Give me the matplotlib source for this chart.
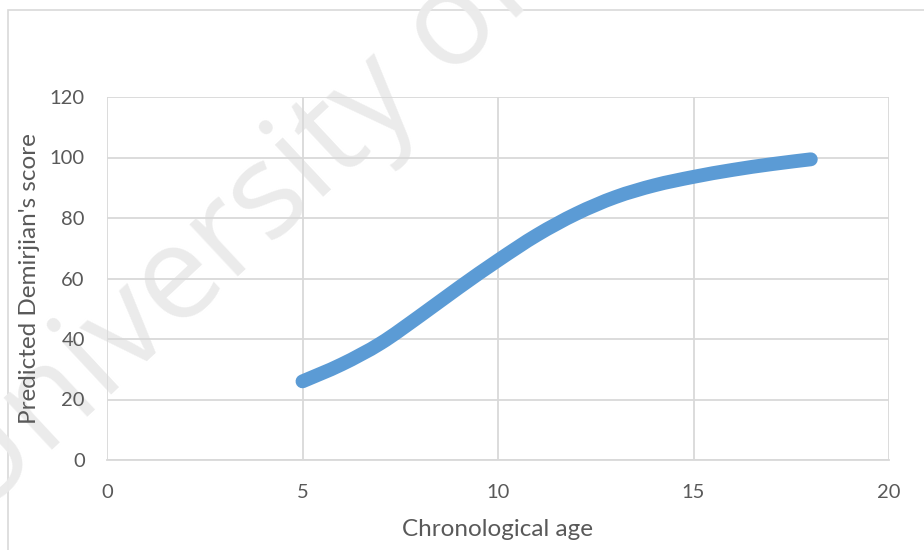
import matplotlib.pyplot as plt
from matplotlib.patches import Rectangle, PathPatch
from matplotlib.path import Path

# predicted score, one point per year of age
age = [5, 6, 7, 8, 9, 10, 11, 12, 13, 14, 15, 16, 17, 18]
score = [26.0, 31.6, 38.6, 47.6, 57.0, 66.0, 74.4, 81.4, 86.9, 90.8, 93.6, 95.9, 97.8, 99.4]
x_ticks = [0, 5, 10, 15, 20]
y_ticks = [0, 20, 40, 60, 80, 100, 120]

TEXT = "#595959"
GRID = "#d9d9d9"
BLUE = "#5b9bd5"

plt.rcParams["font.family"] = ["Lato", "DejaVu Sans"]


def smooth_path(xs, ys):
    # Excel-style smoothed line: Catmull-Rom segments as cubic Beziers
    pts = list(zip(xs, ys))
    verts = [pts[0]]
    codes = [Path.MOVETO]
    for i in range(len(pts) - 1):
        p0 = pts[i - 1] if i > 0 else pts[i]
        p1, p2 = pts[i], pts[i + 1]
        p3 = pts[i + 2] if i + 2 < len(pts) else pts[i + 1]
        c1 = (p1[0] + (p2[0] - p0[0]) / 6, p1[1] + (p2[1] - p0[1]) / 6)
        c2 = (p2[0] - (p3[0] - p1[0]) / 6, p2[1] - (p3[1] - p1[1]) / 6)
        verts += [c1, c2, p2]
        codes += [Path.CURVE4] * 3
    return Path(verts, codes)


fig = plt.figure(figsize=(9.24, 5.5), dpi=100)

# chart border (runs off the right and bottom edges)
fig.patches.append(Rectangle((8 / 924, -0.1), 1.2, 1 - 10 / 550 + 0.1,
                             transform=fig.transFigure, fill=False,
                             edgecolor=GRID, linewidth=1.2, zorder=0))

# watermark
fig.text(-26 / 924, 1 - 523 / 550, "University of Malaya", fontsize=95,
         family=["Open Sans", "DejaVu Sans"], color="#ebebeb", rotation=43,
         rotation_mode="anchor", ha="left", va="baseline", zorder=0)

ax = fig.add_axes([107 / 924, 1 - 460 / 550, (889 - 107) / 924, (460 - 97) / 550])
ax.set_facecolor("none")
ax.set_zorder(1)

ax.add_patch(PathPatch(smooth_path(age, score), facecolor="none", edgecolor=BLUE,
                       linewidth=10, capstyle="round", joinstyle="round", zorder=3))

ax.set_xlim(0, 20)
ax.set_ylim(0, 120)
ax.set_xticks(x_ticks)
ax.set_yticks(y_ticks)
ax.grid(True, color=GRID, linewidth=1.3, zorder=1)
ax.set_axisbelow(True)
for side in ["top", "right", "left"]:
    ax.spines[side].set_visible(False)
ax.spines["bottom"].set_color(GRID)
ax.spines["bottom"].set_linewidth(1.3)
ax.tick_params(axis="both", length=0, labelsize=14.5, labelcolor=TEXT)
ax.tick_params(axis="x", pad=17)
ax.tick_params(axis="y", pad=16)

ax.set_xlabel("Chronological age", fontsize=17.5, color=TEXT, labelpad=13)
ax.set_ylabel("Predicted Demirjian's score", fontsize=17.5, color=TEXT, labelpad=7)

fig.savefig("out.png", dpi=100)
